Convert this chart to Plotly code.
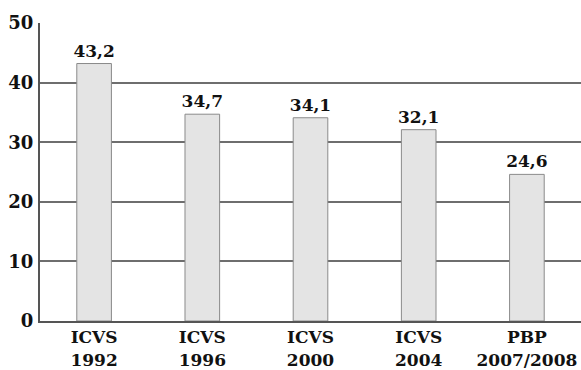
import plotly.graph_objects as go

# Survey editions and the share reported by each
surveys = ["ICVS<br>1992", "ICVS<br>1996", "ICVS<br>2000", "ICVS<br>2004", "PBP<br>2007/2008"]
values = [43.2, 34.7, 34.1, 32.1, 24.6]
y_ticks = [0, 10, 20, 30, 40, 50]

font_family = "DejaVu Serif"
ink = "#111111"
grid = "#6e6e6e"

fig = go.Figure(
    go.Bar(
        x=surveys,
        y=values,
        marker=dict(color="#e4e4e4", line=dict(color="#8a8a8a", width=1)),
        texttemplate="<b>%{y:.1f}</b>",
        textposition="outside",
        constraintext="none",
        textfont=dict(family=font_family, size=17, color=ink),
        cliponaxis=False,
    )
)

fig.update_layout(
    width=581,
    height=370,
    margin=dict(l=40, r=0, t=23, b=49),
    paper_bgcolor="white",
    plot_bgcolor="white",
    separators=",.",
    bargap=0.68,
    showlegend=False,
    font=dict(family=font_family, color=ink),
)

fig.update_xaxes(
    showline=True,
    linecolor="#555555",
    linewidth=2,
    showgrid=False,
    ticks="",
    tickfont=dict(family=font_family, size=17, color=ink),
    tickvals=surveys,
    ticktext=["<b>" + s + "</b>" for s in surveys],
)

fig.update_yaxes(
    range=[0, 50],
    tickvals=y_ticks,
    ticktext=["<b>%d</b>" % v for v in y_ticks],
    showline=True,
    linecolor="#555555",
    linewidth=2,
    showgrid=True,
    gridcolor=grid,
    gridwidth=1.5,
    zeroline=False,
    ticks="",
    ticklabelstandoff=1,
    tickfont=dict(family=font_family, size=18, color=ink),
)

fig.write_html("out.html")
